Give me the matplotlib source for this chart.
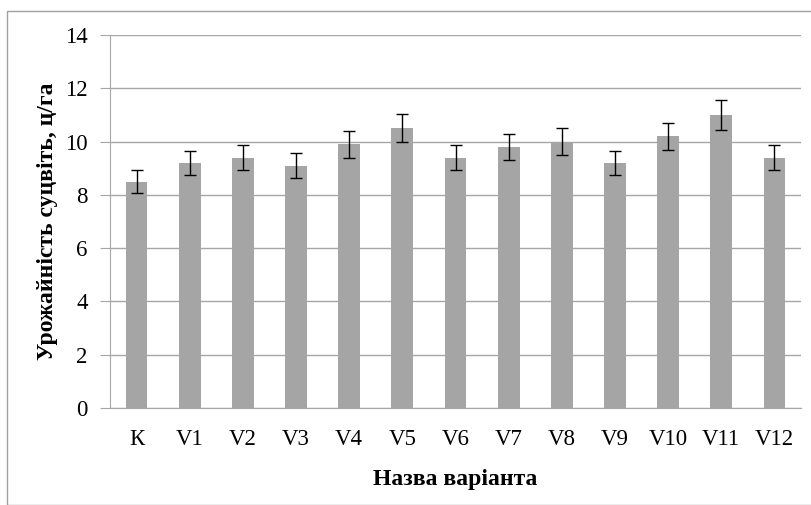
import matplotlib.pyplot as plt
from matplotlib.patches import Rectangle

# data
categories = ["К", "V1", "V2", "V3", "V4", "V5", "V6", "V7", "V8", "V9", "V10", "V11", "V12"]
yields = [8.5, 9.2, 9.4, 9.1, 9.9, 10.5, 9.4, 9.8, 10.0, 9.2, 10.2, 11.0, 9.4]
errors = [0.43, 0.46, 0.47, 0.46, 0.50, 0.53, 0.47, 0.49, 0.50, 0.46, 0.51, 0.55, 0.47]
y_ticks = [0, 2, 4, 6, 8, 10, 12, 14]

plt.rcParams["font.family"] = ["Liberation Serif", "DejaVu Serif"]

fig = plt.figure(figsize=(8.12, 5.05), dpi=100)
ax = fig.add_axes([110 / 812, 1 - 408 / 505, 691 / 812, 373 / 505])

grid_col = "#a6a6a6"
x = range(len(categories))
ax.bar(x, yields, width=0.41, color="#a5a5a5", zorder=2)
ax.errorbar(x, yields, yerr=errors, fmt="none", ecolor="black",
            elinewidth=1, capsize=4, capthick=1, zorder=3)

ax.set_xlim(-0.5, len(categories) - 0.5)
ax.set_ylim(0, 14)
ax.set_yticks(y_ticks)
ax.set_xticks(list(x))
ax.set_xticklabels(categories)
ax.yaxis.grid(True, color=grid_col, linewidth=1, zorder=0)
ax.set_axisbelow(True)

for s in ["top", "right"]:
    ax.spines[s].set_visible(False)
ax.spines["left"].set_color(grid_col)
ax.spines["bottom"].set_color(grid_col)
ax.tick_params(axis="y", length=7, color=grid_col, labelsize=16.5, pad=9)
ax.tick_params(axis="x", length=0, labelsize=16.5, pad=15)

ax.set_ylabel("Урожайність суцвіть, ц/га", fontsize=17, fontweight="bold", labelpad=5)
ax.set_xlabel("Назва варіанта", fontsize=17, fontweight="bold", labelpad=14)

# outer chart border
fig.patches.append(Rectangle((7 / 812, 0), 1, 1 - 11 / 505, transform=fig.transFigure,
                             fill=False, edgecolor="#a0a0a0", linewidth=1))

fig.savefig("out.png", dpi=100)
